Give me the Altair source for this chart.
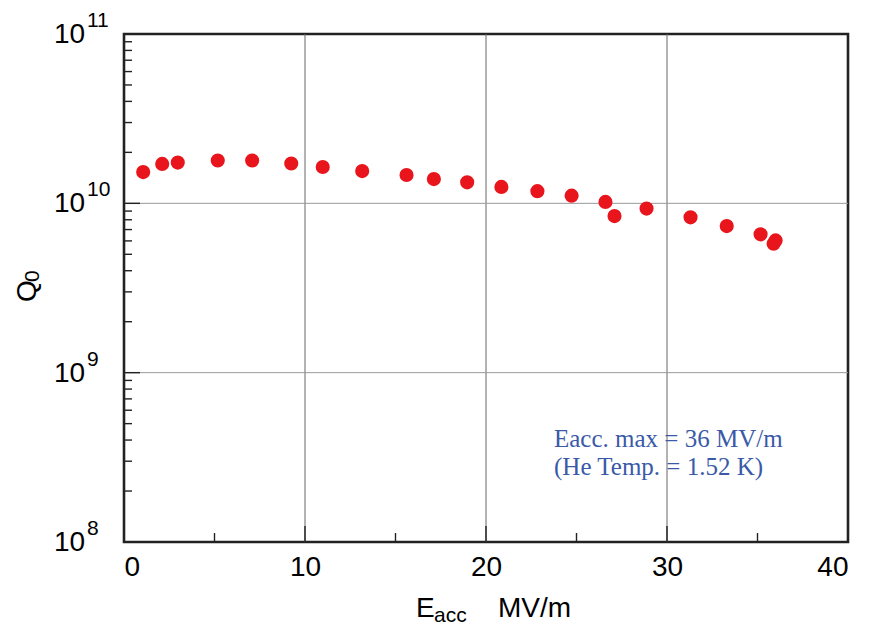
import altair as alt
import pandas as pd

# ---- data ----
e_acc = [1.06, 2.11, 2.97, 5.18, 7.08, 9.24, 10.98, 13.16, 15.61, 17.12, 18.96,
         20.85, 22.84, 24.73, 26.6, 27.1, 28.87, 31.3, 33.3, 35.17, 35.89, 36.0]
q0 = [1.53e10, 1.71e10, 1.74e10, 1.79e10, 1.79e10, 1.72e10, 1.64e10, 1.55e10,
      1.47e10, 1.39e10, 1.33e10, 1.25e10, 1.18e10, 1.11e10, 1.02e10, 8.41e9,
      9.31e9, 8.27e9, 7.34e9, 6.56e9, 5.78e9, 6.04e9]

x_labels = [0, 10, 20, 30, 40]
x_grid = [10, 20, 30]
x_minor = [5, 15, 25, 35]
y_exps = [11, 10, 9, 8]
y_grid = [1e9, 1e10]
y_major = [1e9, 1e10]
y_minor = [m * 10.0 ** e for e in (8, 9, 10) for m in range(2, 10)]
note_lines = ["Eacc. max = 36 MV/m", "(He Temp. = 1.52 K)"]

W, H = 724, 508
xs = alt.Scale(domain=[0, 40], nice=False, zero=False)
ys = alt.Scale(type="log", domain=[1e8, 1e11], nice=False)

pts = pd.DataFrame({"E": e_acc, "Q": q0})

vgrid = alt.Chart(pd.DataFrame({"v": x_grid})).mark_rule(color="#666", strokeWidth=1).encode(
    x=alt.X("v:Q", scale=xs, axis=alt.Axis(values=x_labels, grid=False, ticks=False, tickSize=0,
                                            domain=False, labelFontSize=28, labelFont="Liberation Sans",
                                            labelColor="black", labelPadding=11, title=None)))
hgrid = alt.Chart(pd.DataFrame({"v": y_grid})).mark_rule(color="#999", strokeWidth=1).encode(
    y=alt.Y("v:Q", scale=ys, axis=None))

ymaj = alt.Chart(pd.DataFrame({"v": y_major})).mark_rule(color="#222", strokeWidth=1.4).encode(
    y=alt.Y("v:Q", scale=ys, axis=None), x=alt.value(0), x2=alt.value(16))
ymin = alt.Chart(pd.DataFrame({"v": y_minor})).mark_rule(color="#222", strokeWidth=1.4).encode(
    y=alt.Y("v:Q", scale=ys, axis=None), x=alt.value(0), x2=alt.value(8))
xmaj = alt.Chart(pd.DataFrame({"v": x_grid})).mark_rule(color="#222", strokeWidth=1.4).encode(
    x=alt.X("v:Q", scale=xs), y=alt.value(H), y2=alt.value(H - 16))
xmin = alt.Chart(pd.DataFrame({"v": x_minor})).mark_rule(color="#222", strokeWidth=1.4).encode(
    x=alt.X("v:Q", scale=xs), y=alt.value(H), y2=alt.value(H - 9))

points = alt.Chart(pts).mark_circle(size=200, color="#e8161c", opacity=1).encode(
    x=alt.X("E:Q", scale=xs), y=alt.Y("Q:Q", scale=ys, axis=None))

ylab_df = pd.DataFrame({"v": [10.0 ** e for e in y_exps], "base": ["10"] * 4,
                        "exp": [str(e) for e in y_exps]})
ylab = alt.Chart(ylab_df).mark_text(align="left", baseline="alphabetic", fontSize=28,
                                    font="Liberation Sans", color="black", dy=9).encode(
    y=alt.Y("v:Q", scale=ys, axis=None), x=alt.value(-70), text="base:N")
yexp = alt.Chart(ylab_df).mark_text(align="left", baseline="alphabetic", fontSize=21,
                                    font="Liberation Sans", color="black", dy=-7).encode(
    y=alt.Y("v:Q", scale=ys, axis=None), x=alt.value(-37), text="exp:N")

def txt(s, x, y, size, angle=0, font="Liberation Sans", color="black"):
    kw = dict(align="left", baseline="alphabetic", fontSize=size, font=font, color=color)
    if angle:
        kw["angle"] = angle
    return alt.Chart(pd.DataFrame({"t": [s]})).mark_text(**kw).encode(
        text="t:N", x=alt.value(x), y=alt.value(y))

titles = [
    txt("Q", -88, 268, 28, 270),
    txt("0", -85, 248, 21, 270),
    txt("E", 292, 583, 28),
    txt("acc", 310, 588, 21),
    txt("MV/m", 374, 583, 28),
    txt(note_lines[0], 430, 413, 25, font="Liberation Serif", color="#3a5aa8"),
    txt(note_lines[1], 430, 441, 25, font="Liberation Serif", color="#3a5aa8"),
]

chart = alt.layer(vgrid, hgrid, ymaj, ymin, xmaj, xmin, points, ylab, yexp, *titles).properties(
    width=W, height=H,
    autosize=alt.AutoSizeParams(type="none"),
    padding={"left": 116, "top": 26, "right": 15, "bottom": 84},
    background="white",
).configure_view(stroke="#222", strokeWidth=2.6)

chart.save("out.html", embed_options={"renderer": "svg", "actions": False})
